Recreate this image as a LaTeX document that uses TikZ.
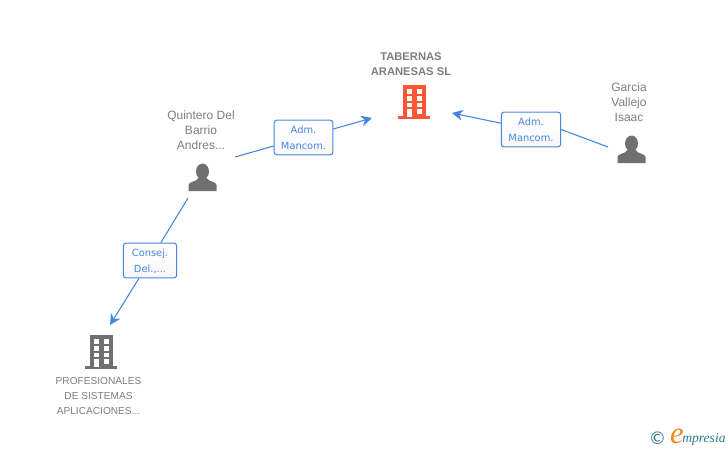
\documentclass[tikz,border=0pt]{standalone}
\usepackage{fontspec}
\setmainfont{Liberation Sans}
\newfontfamily\labelfont{DejaVu Sans}
\newfontfamily\logofont{Liberation Serif}
\usetikzlibrary{arrows.meta,calc,positioning}
\definecolor{link}{RGB}{68,133,226}
\definecolor{iconred}{RGB}{255,87,51}
\definecolor{icongrey}{RGB}{112,112,112}
\definecolor{nametext}{RGB}{125,125,125}
\definecolor{logoteal}{RGB}{50,120,140}
\definecolor{logoorange}{RGB}{240,135,30}
\newcommand{\lifttop}{\rule{0pt}{8pt}}
\newcommand{\liftbot}{\rule[-1.5pt]{0pt}{1.5pt}}
\tikzset{
  pics/building/.style={code={
    \fill [#1] (-11.5,0) rectangle (11.5,32);
    \fill [#1] (-16,31) rectangle (16,34);
    \foreach \wy in {4,11,17.5} {
      \fill [white] (-7,\wy) rectangle (-2,\wy+4.5);
      \fill [white] (3,\wy) rectangle (8,\wy+4.5);
    }
    \fill [white] (-7,24) rectangle (-2,32);
    \fill [white] (3,24) rectangle (8,28.5);
  }},
  pics/person/.style={code={
    \fill [#1] (0,7.5) ellipse (6.5 and 8);
    \fill [#1] (-14,27) -- (-14,21) .. controls (-14,17.5) and (-6,18) .. (-4,14)
      -- (4,14) .. controls (6,18) and (14,17.5) .. (14,21) -- (14,27) -- cycle;
  }}
}
\begin{document}
\begin{tikzpicture}[
    x=0.75pt, y=-0.75pt,
    name label/.style={align=center, text=nametext, font=\fontsize{9}{11.25}\selectfont},
    firm label/.style={align=center, text=nametext, font=\fontsize{8.4}{11.25}\selectfont\bfseries},
    small label/.style={align=center, text=nametext, font=\fontsize{7.6}{11.25}\selectfont},
    role box/.style={align=center, text=link, font=\labelfont\fontsize{7.4}{11.8}\selectfont, draw=link, line width=0.75pt, rounded corners=2pt, top color=white, bottom color=black!3, inner sep=0pt, minimum height=26pt},
    chain/.style={draw=link, line width=0.8pt},
    branch/.style={chain, -{Stealth[length=8pt, width=8pt, inset=2.5pt]}}
  ]
  \useasboundingbox (0,0) rectangle (728,450);

  \pic at (414,85) {building=iconred};
  \pic at (101,335) {building=icongrey};
  \pic at (202.5,164) {person=icongrey};
  \pic at (631.5,136) {person=icongrey};

  \node [firm label] (tabernas) at (411,64) {TABERNAS\\ARANESAS SL};
  \node [name label] (quintero) at (201,130) {Quintero Del\\Barrio\\Andres...};
  \node [name label] (garcia) at (629,102) {Garcia\\Vallejo\\Isaac};
  \node [small label] (profesionales) at (98.5,396.5) {PROFESIONALES\\DE SISTEMAS\\APLICACIONES...};

  \node [role box, minimum width=44pt] (admleft) at (303.5,137.5) {\lifttop Adm.\\Mancom.\liftbot};
  \node [role box, minimum width=44.5pt] (admright) at (531,129.5) {\lifttop Adm.\\Mancom.\liftbot};
  \node [role box, minimum width=40pt] (consej) at (150,260.5) {\lifttop Consej.\\Del.,...\liftbot};

  \coordinate (quinteroout) at (235,157);
  \coordinate (tabernasleft) at (372,118);
  \coordinate (garciaout) at (608,147);
  \coordinate (tabernasright) at (452,113);
  \coordinate (quinterodown) at (188,198);
  \coordinate (profesionalesin) at (110,325);

  \path [chain] (quinteroout) -- (admleft);
  \path [branch] (admleft) -- (tabernasleft);
  \path [chain] (garciaout) -- (admright.east);
  \path [branch] (admright) -- (tabernasright);
  \path [chain] (quinterodown) -- (consej);
  \path [branch] (consej) -- (profesionalesin);

  % logo
  \node [text=logoteal, font=\labelfont\fontsize{13}{13}\selectfont, inner sep=0pt] (copyright) at (657.5,438) {©};
  \node [text=logoorange, font=\logofont\itshape\fontsize{23}{23}\selectfont, inner sep=0pt] (logoe) at (677,436) {e};
  \node [text=logoteal, font=\logofont\itshape\fontsize{10.2}{10}\selectfont, inner sep=0pt, anchor=base west] (logotext) at (682,442) {mpresia};
\end{tikzpicture}
\end{document}
